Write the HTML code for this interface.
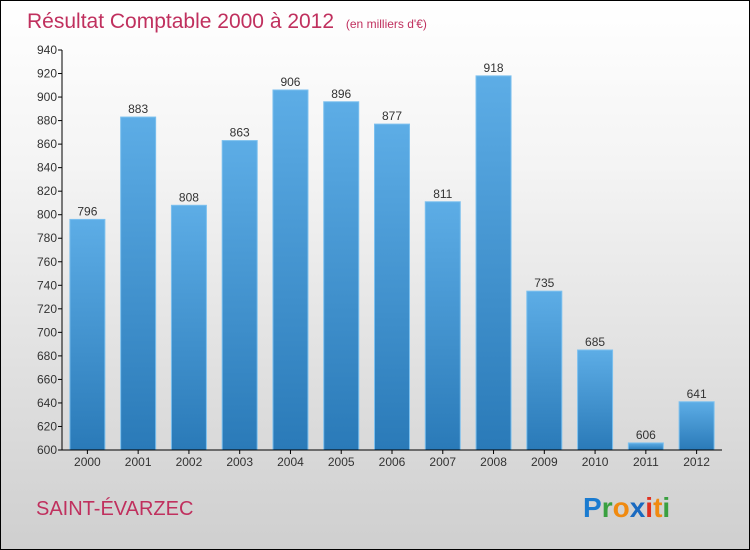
<!DOCTYPE html>
<html><head><meta charset="utf-8"><style>
body{margin:0}
#c{width:748px;height:548px;border:1px solid #000;background:linear-gradient(#ffffff,#f4f4f4 30%,#cfcfcf);position:relative;font-family:"Liberation Sans",sans-serif;overflow:hidden}
</style></head><body>
<div id="c">
<svg width="748" height="548" id="s">
<defs><linearGradient id="g" x1="0" y1="0" x2="0" y2="1"><stop offset="0" stop-color="#5dade6"/><stop offset="1" stop-color="#2a7ab8"/></linearGradient></defs>
<text x="26" y="27" font-size="21" fill="#c0305e">Résultat Comptable 2000 à 2012 <tspan font-size="12" dx="6">(en milliers d'€)</tspan></text>
<text x="35" y="514" font-size="20" fill="#c0305e">SAINT-ÉVARZEC</text>
<text x="582" y="516" font-size="28" font-weight="bold"><tspan fill="#1a7bd0">P</tspan><tspan fill="#3aa040">r</tspan><tspan fill="#f08a10">o</tspan><tspan fill="#1a6ac0">x</tspan><tspan fill="#e03020">i</tspan><tspan fill="#f08a10">t</tspan><tspan fill="#3aa040">i</tspan></text>
<g id="plot"></g>
</svg>
</div>
<script>
const categories=["2000","2001","2002","2003","2004","2005","2006","2007","2008","2009","2010","2011","2012"];
const values=[796,883,808,863,906,896,877,811,918,735,685,606,641];
const yTicks=[600,620,640,660,680,700,720,740,760,780,800,820,840,860,880,900,920,940];
const NS="http://www.w3.org/2000/svg";
const g=document.getElementById('plot');
const x0=61,x1=721,yTop=49,yBot=449,ymin=600,ymax=940;
const y=v=>yBot-(v-ymin)/(ymax-ymin)*(yBot-yTop);
const bw=(x1-x0)/categories.length;
const xc=i=>x0+bw*(i+0.5);
function mk(t,a){const e=document.createElementNS(NS,t);for(const k in a)e.setAttribute(k,a[k]);g.appendChild(e);return e;}
yTicks.forEach(v=>{
 const t=mk('line',{x1:x0-4,x2:x0,y1:y(v),y2:y(v),stroke:'#000'});
 
 
 const l=mk('text',{x:x0-5,y:y(v)+4,'font-size':12,'text-anchor':'end',fill:'#333'});
 l.textContent=v;
 
 
});
values.forEach((v,i)=>{
 const r=mk('rect',{x:xc(i)-17.5,y:y(v),width:35,height:yBot-y(v),fill:'url(#g)',stroke:'#7cc0ee','stroke-width':1});
 
 
 const l=mk('text',{x:xc(i),y:y(v)-4,'font-size':12,'text-anchor':'middle',fill:'#333'});
 l.textContent=v;
 
 
 const c=mk('text',{x:xc(i),y:yBot+16,'font-size':12,'text-anchor':'middle',fill:'#333'});
 c.textContent=categories[i];
 
 
 const t=mk('line',{x1:xc(i),x2:xc(i),y1:yBot,y2:yBot+4,stroke:'#000'});
 
 
});
const ya=mk('line',{x1:x0,x2:x0,y1:yTop,y2:yBot,stroke:'#000'});


const xa=mk('line',{x1:x0,x2:x1,y1:yBot,y2:yBot,stroke:'#000'});


</script>
</body></html>
